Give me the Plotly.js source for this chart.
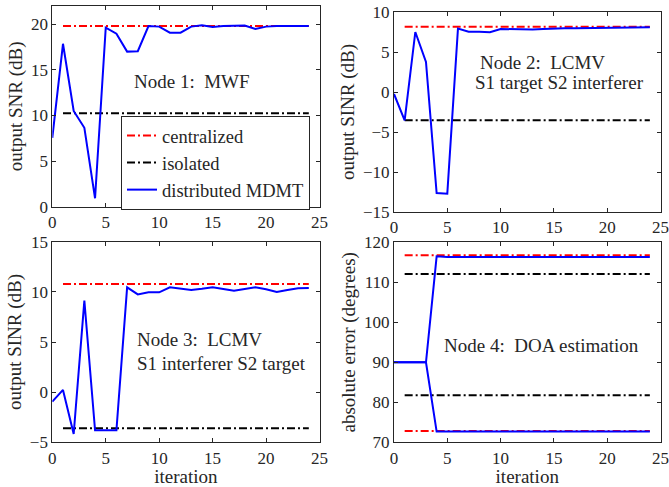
<!DOCTYPE html>
<html><head><meta charset="utf-8">
<script src="https://cdn.plot.ly/plotly-3.0.1.min.js"></script>
<style>html,body{margin:0;padding:0;background:#fff}</style>
</head><body><div id="chart" style="width:669px;height:487px"></div>
<script>
// ---- data ----
const iteration = [0,1,2,3,4,5,6,7,8,9,10,11,12,13,14,15,16,17,18,19,20,21,22,23,24];
const refIter = [1, 24];

const node1Distributed = [7.55,17.86,10.5,8.65,0.92,19.63,18.97,17.0,17.05,19.8,19.74,19.08,19.08,19.74,19.9,19.7,19.8,19.85,19.85,19.48,19.74,19.8,19.8,19.74,19.8];
const node1Centralized = 19.82;
const node1Isolated = 10.24;

const node2Distributed = [-0.25,-3.54,7.5,3.75,-12.63,-12.71,7.92,7.54,7.54,7.46,7.88,7.83,7.83,7.8,7.88,7.96,7.96,7.96,7.98,8.0,8.02,8.02,8.05,8.06,8.08];
const node2Centralized = 8.15;
const node2Isolated = -3.54;

const node3Distributed = [-0.95,0.22,-4.17,9.12,-3.8,-3.8,-3.8,10.45,9.75,9.95,9.95,10.45,10.28,10.18,10.3,10.45,10.28,10.12,10.28,10.45,10.25,9.98,10.18,10.35,10.38];
const node3Centralized = 10.78;
const node3Isolated = -3.6;

const node4DistributedA = [90,90,90,90,116.5,116.3,116.3,116.3,116.3,116.3,116.3,116.3,116.3,116.3,116.3,116.3,116.3,116.3,116.3,116.3,116.3,116.3,116.3,116.3,116.3];
const node4DistributedB = [90,90,90,90,72.67,72.7,72.7,72.7,72.7,72.7,72.7,72.7,72.7,72.7,72.7,72.7,72.7,72.7,72.7,72.7,72.7,72.7,72.7,72.7,72.7];
const node4CentralizedA = 116.75;
const node4CentralizedB = 72.84;
const node4IsolatedA = 112.07;
const node4IsolatedB = 81.77;

const seriesNames = ['centralized', 'isolated', 'distributed MDMT'];
const xTicks = [0,5,10,15,20,25];

// ---- styling ----
const FONT = 'Liberation Serif';
const TXT = '#262626';
const DASHDOT = '8px,3px,2px,3px';

function flat(v) { return refIter.map(() => v); }
function refLine(v, color, name, xa, ya, show) {
  return {x: refIter, y: flat(v), mode: 'lines', name: name, showlegend: show,
    line: {color: color, width: 2, dash: DASHDOT}, xaxis: xa, yaxis: ya, hoverinfo: 'skip'};
}
function distLine(y, xa, ya, show) {
  return {x: iteration, y: y, mode: 'lines', name: seriesNames[2], showlegend: show,
    line: {color: '#0000FF', width: 2}, xaxis: xa, yaxis: ya};
}

const traces = [
  refLine(node1Centralized, '#FF0000', seriesNames[0], 'x', 'y', true),
  refLine(node1Isolated, '#000000', seriesNames[1], 'x', 'y', true),
  distLine(node1Distributed, 'x', 'y', true),

  refLine(node2Centralized, '#FF0000', seriesNames[0], 'x2', 'y2', false),
  refLine(node2Isolated, '#000000', seriesNames[1], 'x2', 'y2', false),
  distLine(node2Distributed, 'x2', 'y2', false),

  refLine(node3Centralized, '#FF0000', seriesNames[0], 'x3', 'y3', false),
  refLine(node3Isolated, '#000000', seriesNames[1], 'x3', 'y3', false),
  distLine(node3Distributed, 'x3', 'y3', false),

  refLine(node4CentralizedA, '#FF0000', seriesNames[0], 'x4', 'y4', false),
  refLine(node4CentralizedB, '#FF0000', seriesNames[0], 'x4', 'y4', false),
  refLine(node4IsolatedA, '#000000', seriesNames[1], 'x4', 'y4', false),
  refLine(node4IsolatedB, '#000000', seriesNames[1], 'x4', 'y4', false),
  distLine(node4DistributedA, 'x4', 'y4', false),
  distLine(node4DistributedB, 'x4', 'y4', false)
];

function xAxis(domain, anchor, title) {
  const a = {domain: domain, anchor: anchor, range: [0, 25], tickvals: xTicks,
    ticks: 'inside', ticklen: 4, tickcolor: TXT, mirror: 'ticks', showline: true,
    linecolor: TXT, linewidth: 1, showgrid: false, zeroline: false,
    ticklabeloverflow: 'allow',
    tickfont: {family: FONT, size: 17, color: TXT}, fixedrange: true};
  if (title) a.title = {text: title, font: {family: FONT, size: 19, color: TXT}, standoff: 2};
  return a;
}
function yAxis(domain, anchor, range, dtick, title) {
  return {domain: domain, anchor: anchor, range: range, dtick: dtick, tick0: 0,
    ticks: 'inside', ticklen: 4, tickcolor: TXT, mirror: 'ticks', showline: true,
    linecolor: TXT, linewidth: 1, showgrid: false, zeroline: false,
    ticklabeloverflow: 'allow',
    tickfont: {family: FONT, size: 17, color: TXT}, fixedrange: true,
    title: {text: title, font: {family: FONT, size: 19, color: TXT}, standoff: 3}};
}

const W = 669, H = 487;
const L1 = [52.3/W, 319.5/W], L2 = [394/W, 660.5/W];
const annFont = {family: FONT, size: 19, color: TXT};

const layout = {
  width: W, height: H, autosize: false,
  margin: {l: 0, r: 0, t: 0, b: 0},
  paper_bgcolor: '#fff', plot_bgcolor: '#fff',
  font: {family: FONT, color: TXT},
  showlegend: true,
  legend: {x: 310/W, xanchor: 'right', y: 1 - 116/H, yanchor: 'top',
    bgcolor: '#fff', bordercolor: TXT, borderwidth: 1,
    font: {family: FONT, size: 18.5, color: TXT}, tracegroupgap: 0, itemwidth: 30},
  xaxis: xAxis(L1, 'y', null),
  yaxis: yAxis([1 - 206.7/H, 1 - 6/H], 'x', [0, 22], 5, 'output SNR (dB)'),
  xaxis2: xAxis(L2, 'y2', null),
  yaxis2: yAxis([1 - 212/H, 1 - 12/H], 'x2', [-15, 10], 5, 'output SINR (dB)'),
  xaxis3: xAxis(L1, 'y3', 'iteration'),
  yaxis3: yAxis([1 - 442.3/H, 1 - 241.7/H], 'x3', [-5, 15], 5, 'output SINR (dB)'),
  xaxis4: xAxis(L2, 'y4', 'iteration'),
  yaxis4: yAxis([1 - 442.3/H, 1 - 242.3/H], 'x4', [70, 120], 10, 'absolute error (degrees)'),
  annotations: [
    {xref: 'x', yref: 'y', x: 13.1, y: 13.67, text: 'Node 1:  MWF', showarrow: false,
      xanchor: 'center', yanchor: 'middle', font: annFont},
    {xref: 'x2', yref: 'y2', x: 7.88, y: 3.66, text: 'Node 2:  LCMV', showarrow: false,
      xanchor: 'left', yanchor: 'middle', font: annFont},
    {xref: 'x2', yref: 'y2', x: 7.41, y: 1.16, text: 'S1 target S2 interferer', showarrow: false,
      xanchor: 'left', yanchor: 'middle', font: annFont},
    {xref: 'x3', yref: 'y3', x: 7.73, y: 5.2, text: 'Node 3:  LCMV', showarrow: false,
      xanchor: 'left', yanchor: 'middle', font: annFont},
    {xref: 'x3', yref: 'y3', x: 7.73, y: 2.88, text: 'S1 interferer S2 target', showarrow: false,
      xanchor: 'left', yanchor: 'middle', font: annFont},
    {xref: 'x4', yref: 'y4', x: 13.84, y: 94.1, text: 'Node 4:  DOA estimation', showarrow: false,
      xanchor: 'center', yanchor: 'middle', font: annFont}
  ]
};

Plotly.newPlot('chart', traces, layout, {staticPlot: true, displayModeBar: false});
</script></body></html>
